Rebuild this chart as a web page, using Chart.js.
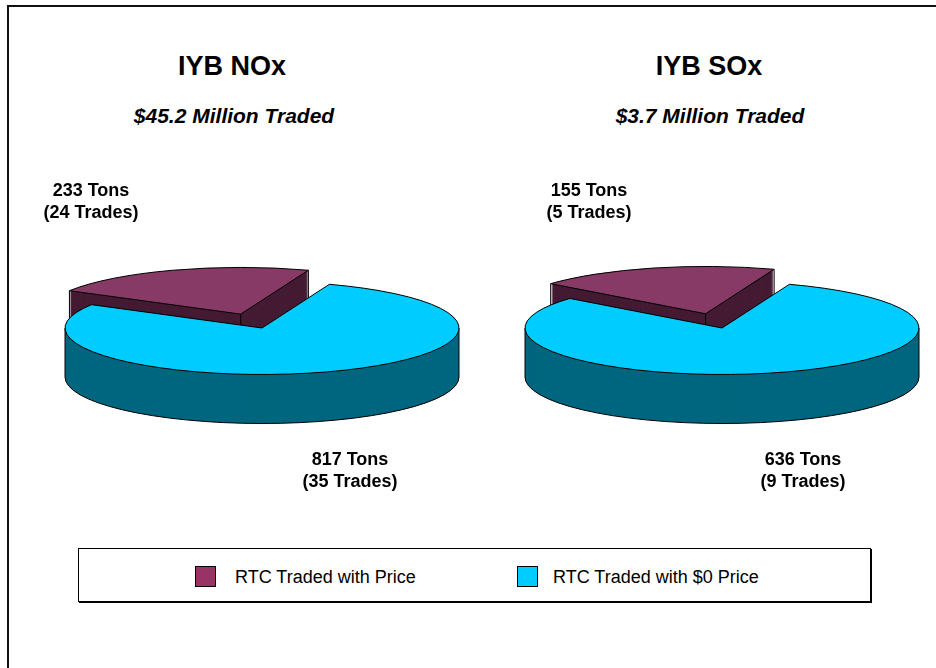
<!DOCTYPE html>
<html><head><meta charset="utf-8">
<script src="https://cdn.jsdelivr.net/npm/chart.js@4.4.0/dist/chart.umd.min.js"></script>
<style>
html,body{margin:0;padding:0;background:#fff;overflow:hidden;width:936px;height:668px;}
#frame{position:absolute;left:7px;top:5px;width:1000px;height:1000px;border-top:2px solid #111;border-left:2px solid #111;}
.t{position:absolute;white-space:nowrap;font-family:"Liberation Sans",Arial,sans-serif;color:#000;line-height:1;}
canvas{position:absolute;}
#legend{position:absolute;left:78px;top:548px;width:791px;height:52px;border:1px solid #000;box-shadow:1px 1px 0 #000;background:#fff;}
.sw{position:absolute;width:19px;height:19px;border:1px solid #000;}
</style></head><body>
<div id="frame"></div>
<div id="legend"></div>
<canvas id="c0" width="420" height="300"></canvas>
<canvas id="c1" width="420" height="300"></canvas>
<script>
// ---------------- data ----------------
const categories = ["RTC Traded with Price", "RTC Traded with $0 Price"];
const pollutants = ["IYB NOx", "IYB SOx"];
const millionsTraded = ["45.2", "3.7"];
const noxTons = [233, 817];
const noxTrades = [24, 35];
const soxTons = [155, 636];
const soxTrades = [5, 9];

// ---------------- style ----------------
const TOP_COLORS = ["#883a67", "#00ccff"];
const SIDE_COLORS = ["#441b33", "#00667f"];
const LEGEND_COLORS = ["#993366", "#00ccff"];
const PIES = [
  {cx: 262, cy: 328, titleX: 232, subX: 234, upLabelX: 91, lowLabelX: 350},
  {cx: 722, cy: 328, titleX: 709, subX: 710, upLabelX: 589, lowLabelX: 803}
];
const CW = 420, CH = 300;

function addText(parent, str, x, baseline, size, weight, style, align) {
  const d = document.createElement('div');
  d.className = 't';
  d.textContent = str;
  d.style.fontSize = size + 'px';
  d.style.fontWeight = weight;
  d.style.fontStyle = style || 'normal';
  parent.appendChild(d);
  const w = d.getBoundingClientRect().width;
  const pr = parent === document.body ? {left: 0, top: 0} : {left: parent.offsetLeft + 1, top: parent.offsetTop + 1};
  d.style.left = ((align === 'left' ? x : x - w / 2) - pr.left) + 'px';
  d.style.top = (baseline - 0.8465 * size - pr.top) + 'px';
}

const pie3d = {
  id: 'pie3d',
  beforeDatasetsDraw(chart, args, opts) {
    const ctx = chart.ctx;
    const arcs = chart.getDatasetMeta(0).data;
    const S = opts.squash, D = opts.depth;
    const mid = a => (a.startAngle + a.endAngle) / 2;
    const order = arcs.map((a, i) => i).sort((i, j) => Math.sin(mid(arcs[i])) - Math.sin(mid(arcs[j])));
    for (const i of order) {
      const a = arcs[i];
      const cx = a.x, cy = a.y;
      const m = mid(a);
      const off = (a.options.offset || 0) / 4;
      const ox = Math.cos(m) * off, oy = Math.sin(m) * off;
      const circ = a.endAngle - a.startAngle;
      const rr = a.outerRadius + off * (1 - Math.sin(Math.min(Math.PI, circ)));
      if (!(rr > 0)) continue;
      const A0 = a.startAngle, A1 = a.endAngle;
      const P = (ang, dy) => [cx + ox + rr * Math.cos(ang), cy + S * (oy + rr * Math.sin(ang)) + dy];
      const apex = dy => [cx + ox, cy + S * oy + dy];
      const drawFill = (color, dy) => {
        const fake = Object.create(a);
        fake.options = Object.assign({}, a.options, {backgroundColor: color, borderWidth: 0});
        ctx.save();
        ctx.translate(0, dy);
        ctx.translate(cx, cy); ctx.scale(1, S); ctx.translate(-cx, -cy);
        a.draw.call(fake, ctx);
        ctx.restore();
      };
      // extrusion
      for (let d = D; d >= 1; d--) drawFill(opts.side[i], d);
      // side outlines
      ctx.save();
      ctx.strokeStyle = opts.line; ctx.lineWidth = 1;
      const vline = p => { ctx.beginPath(); ctx.moveTo(p[0], p[1] - D); ctx.lineTo(p[0], p[1]); ctx.stroke(); };
      for (let k = -1; k <= 2; k++) {
        const u = Math.max(A0, 2 * Math.PI * k), v = Math.min(A1, 2 * Math.PI * k + Math.PI);
        if (v > u) {
          ctx.beginPath();
          ctx.ellipse(cx + ox, cy + S * oy + D, rr, rr * S, 0, u, v);
          ctx.stroke();
        }
        [2 * Math.PI * k, 2 * Math.PI * k + Math.PI].forEach(e => { if (e > A0 && e < A1) vline(P(e, D)); });
      }
      const startVis = Math.sin(A0 - Math.PI / 2) > 0, endVis = Math.sin(A1 + Math.PI / 2) > 0;
      if (startVis) {
        ctx.beginPath(); ctx.moveTo(...apex(D)); ctx.lineTo(...P(A0, D)); ctx.stroke();
      }
      if (endVis) {
        ctx.beginPath(); ctx.moveTo(...apex(D)); ctx.lineTo(...P(A1, D)); ctx.stroke();
      }
      if (startVis || Math.sin(A0) > 0) vline(P(A0, D));
      if (endVis || Math.sin(A1) > 0) vline(P(A1, D));
      if (startVis || endVis) vline(apex(D));
      ctx.restore();
      // top face
      drawFill(a.options.backgroundColor, 0);
      ctx.save();
      ctx.strokeStyle = opts.line; ctx.lineWidth = 1;
      ctx.beginPath();
      ctx.moveTo(...apex(0));
      ctx.ellipse(cx + ox, cy + S * oy, rr, rr * S, 0, A0, A1);
      ctx.closePath();
      ctx.stroke();
      ctx.restore();
    }
    return false;
  }
};

const tonsSets = [noxTons, soxTons];
const tradesSets = [noxTrades, soxTrades];

PIES.forEach((p, n) => {
  const cv = document.getElementById('c' + n);
  cv.style.left = (p.cx - CW / 2) + 'px';
  cv.style.top = (p.cy - CH / 2) + 'px';
  const vals = tonsSets[n];
  new Chart(cv, {
    type: 'pie',
    data: {
      labels: [categories[1], categories[0]],
      datasets: [{
        data: [vals[1], vals[0]],
        backgroundColor: [TOP_COLORS[1], TOP_COLORS[0]],
        borderWidth: 0,
        offset: [0, 250],
        clip: false
      }]
    },
    options: {
      responsive: false, animation: false, devicePixelRatio: 1,
      rotation: 20, radius: 197, cutout: '0%',
      layout: {padding: 0}, events: [],
      plugins: {
        legend: {display: false}, tooltip: {enabled: false},
        pie3d: {squash: 0.236, depth: 49, line: '#000', side: [SIDE_COLORS[1], SIDE_COLORS[0]]}
      }
    },
    plugins: [pie3d]
  });
  addText(document.body, pollutants[n], p.titleX, 76, 27, 'bold');
  addText(document.body, '$' + millionsTraded[n] + ' Million Traded', p.subX, 123, 21, 'bold', 'italic');
  addText(document.body, tonsSets[n][0] + ' Tons', p.upLabelX, 196.5, 18, 'bold');
  addText(document.body, '(' + tradesSets[n][0] + ' Trades)', p.upLabelX, 218.5, 18, 'bold');
  addText(document.body, tonsSets[n][1] + ' Tons', p.lowLabelX, 465, 18, 'bold');
  addText(document.body, '(' + tradesSets[n][1] + ' Trades)', p.lowLabelX, 487, 18, 'bold');
});

// legend
const leg = document.getElementById('legend');
const legendItems = [{sx: 195, tx: 235}, {sx: 517, tx: 553}];
categories.forEach((c, i) => {
  const s = document.createElement('div');
  s.className = 'sw';
  s.style.background = LEGEND_COLORS[i];
  s.style.left = (legendItems[i].sx - 79) + 'px';
  s.style.top = (566 - 549) + 'px';
  leg.appendChild(s);
  addText(leg, c, legendItems[i].tx, 583, 18, 'normal', 'normal', 'left');
});
</script>
</body></html>
